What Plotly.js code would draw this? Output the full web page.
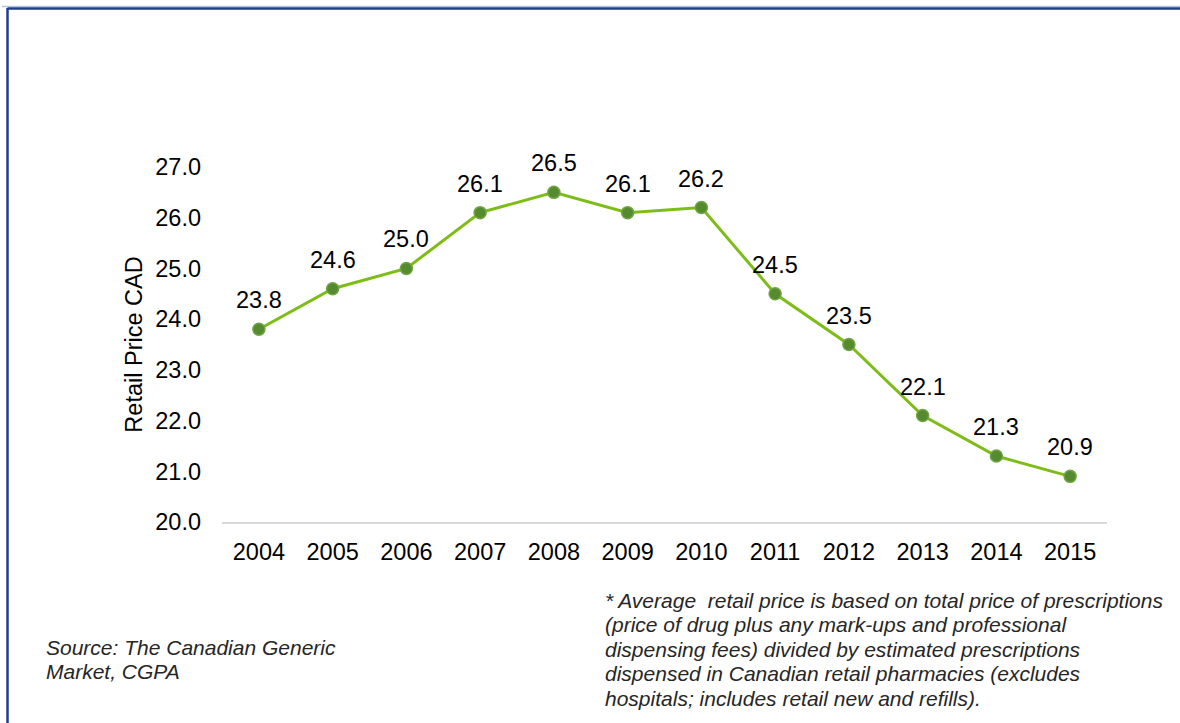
<!DOCTYPE html>
<html>
<head>
<meta charset="utf-8">
<script src="https://cdn.plot.ly/plotly-3.0.1.min.js"></script>
<style>
  html, body { margin: 0; padding: 0; background: #ffffff; }
  #chart { width: 1180px; height: 723px; }
</style>
</head>
<body>
<div id="chart"></div>
<script>
const years = ['2004','2005','2006','2007','2008','2009','2010','2011','2012','2013','2014','2015'];
const retailPrice = [23.8, 24.6, 25.0, 26.1, 26.5, 26.1, 26.2, 24.5, 23.5, 22.1, 21.3, 20.9];
const yTicks = [20, 21, 22, 23, 24, 25, 26, 27];
const yAxisTitle = 'Retail Price CAD';
const sourceLines = ['Source: The Canadian Generic', 'Market, CGPA'];
const footnoteLines = [
  '* Average&nbsp; retail price is based on total price of prescriptions',
  '(price of drug plus any mark-ups and professional',
  'dispensing fees) divided by estimated prescriptions',
  'dispensed in Canadian retail pharmacies (excludes',
  'hospitals; includes retail new and refills).'
];

const FONT = 'Arial, "Liberation Sans", sans-serif';
const FS = 23.5;

// plot area in pixels: left 222, right 1107, top 167, bottom 522
const L = 222, R = 1107, T = 167, B = 522;
const W = R - L, H = B - T;
const px = x => (x - L) / W;
const py = y => (B - y) / H;

const trace = {
  x: years,
  y: retailPrice,
  type: 'scatter',
  mode: 'lines+markers',
  line: { color: '#7ebd17', width: 3 },
  marker: { color: '#558a2f', size: 12, line: { color: '#6fa443', width: 1.5 } },
  hoverinfo: 'x+y',
  showlegend: false
};

const labelAnnotations = years.map((yr, i) => ({
  x: i, y: retailPrice[i], xref: 'x', yref: 'y',
  text: retailPrice[i].toFixed(1),
  showarrow: false, yshift: 29,
  font: { family: FONT, size: FS, color: '#000000' }
}));

const noteAnnotations = [];
sourceLines.forEach((t, i) => noteAnnotations.push({
  xref: 'paper', yref: 'paper', x: px(44), y: py(647 + i * 24.5),
  xanchor: 'left', yanchor: 'middle', align: 'left', showarrow: false,
  text: '<i>' + t + '</i>',
  font: { family: FONT, size: 21, color: '#262626' }
}));
footnoteLines.forEach((t, i) => noteAnnotations.push({
  xref: 'paper', yref: 'paper', x: px(603), y: py(600 + i * 24.5),
  xanchor: 'left', yanchor: 'middle', align: 'left', showarrow: false,
  text: '<i>' + t + '</i>',
  font: { family: FONT, size: 21, color: '#262626' }
}));

const layout = {
  width: 1180, height: 723,
  paper_bgcolor: '#ffffff', plot_bgcolor: '#ffffff',
  margin: { l: L, r: 1180 - R, t: T, b: 723 - B },
  font: { family: FONT, color: '#000000' },
  xaxis: {
    type: 'category',
    range: [-0.5, years.length - 0.5],
    showgrid: false, zeroline: false,
    showline: true, linecolor: '#d9d9d9', linewidth: 1.5,
    ticks: '', ticklabelstandoff: 8,
    tickfont: { family: FONT, size: FS, color: '#000000' }
  },
  yaxis: {
    range: [20, 27],
    tickvals: yTicks,
    tickformat: '.1f',
    showgrid: false, zeroline: false, showline: false,
    ticks: '', ticklabelstandoff: 20,
    tickfont: { family: FONT, size: FS, color: '#000000' },
    title: { text: yAxisTitle, standoff: 6, font: { family: FONT, size: FS, color: '#000000' } }
  },
  annotations: labelAnnotations.concat(noteAnnotations),
  shapes: [
    { type: 'line', xref: 'paper', yref: 'paper', x0: px(2), x1: px(1200), y0: py(6.5), y1: py(6.5),
      line: { color: '#b4c5e4', width: 1.5 } },
    { type: 'line', xref: 'paper', yref: 'paper', x0: px(7.5), x1: px(1200), y0: py(8.5), y1: py(8.5),
      line: { color: '#1f3d8a', width: 2.5 } },
    { type: 'line', xref: 'paper', yref: 'paper', x0: px(7.5), x1: px(7.5), y0: py(8), y1: py(740),
      line: { color: '#1f3d8a', width: 2.5 } }
  ]
};

Plotly.newPlot('chart', [trace], layout, { displayModeBar: false, staticPlot: true });
</script>
</body>
</html>
